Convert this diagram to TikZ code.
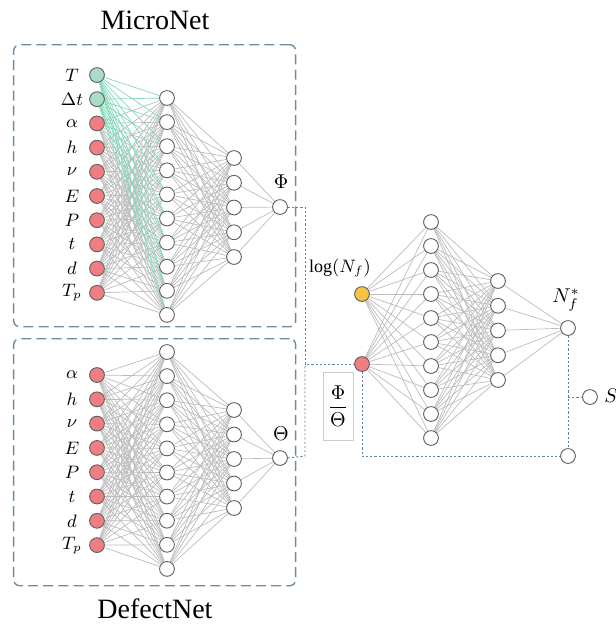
\documentclass[tikz,border=0pt]{standalone}
\usepackage{fontspec}
\setmainfont{Liberation Serif}
\usetikzlibrary{backgrounds}
\definecolor{boxcol}{RGB}{110,140,160}
\definecolor{dotcol}{RGB}{95,130,160}
\definecolor{linkcol}{RGB}{188,188,188}
\definecolor{greenlink}{RGB}{130,218,185}
\definecolor{greenfill}{RGB}{170,220,200}
\definecolor{redfill}{RGB}{240,125,130}
\definecolor{yellowfill}{RGB}{245,195,65}
\definecolor{nodeline}{RGB}{95,95,95}
\begin{document}
\begin{tikzpicture}[x=0.5pt,y=-0.5pt,
  neuron/.style={circle,draw=nodeline,line width=0.45pt,minimum size=7.4pt,inner sep=0pt,fill=white},
  inred/.style={neuron,fill=redfill},
  ingreen/.style={neuron,fill=greenfill},
  inyellow/.style={neuron,fill=yellowfill},
  link/.style={draw=linkcol,line width=0.35pt},
  glink/.style={draw=greenlink,line width=0.35pt},
  netbox/.style={draw=boxcol,line width=0.7pt,dash pattern=on 5pt off 2.6pt,rounded corners=3pt},
  dotline/.style={draw=dotcol,line width=0.45pt,dash pattern=on 1.1pt off 1pt},
  inlabel/.style={font=\fontsize{9}{10}\selectfont},
  title/.style={font=\fontsize{14}{16}\selectfont}
]
\useasboundingbox (0,0) rectangle (616,629);

% boxes
\node[netbox,minimum width=141pt,minimum height=141pt,anchor=north west] (microbox) at (13,44) {};
\node[netbox,minimum width=141pt,minimum height=123.5pt,anchor=north west] (defectbox) at (13,338) {};
\node[title] (microtitle) at (155,20) {MicroNet};
\node[title] (defecttitle) at (155,609) {DefectNet};

% ---------- MicroNet ----------
\foreach \i/\lab in {1/T,2/\Delta t} {
  \node[ingreen] (mi\i) at (97,{75+(\i-1)*24.2}) {};
  \node[inlabel] (mil\i) at (72,{75+(\i-1)*24.2}) {$\lab$};
}
\foreach \i/\lab in {3/\alpha,4/h,5/\nu,6/E,7/P,8/t,9/d,10/T_p} {
  \node[inred] (mi\i) at (97,{75+(\i-1)*24.2}) {};
  \node[inlabel] (mil\i) at (72,{75+(\i-1)*24.2}) {$\lab$};
}
\foreach \i in {1,...,10} \node[neuron] (mh\i) at (167,{98+(\i-1)*24.1}) {};
\foreach \i in {1,...,5} \node[neuron] (mm\i) at (234,{158+(\i-1)*24.75}) {};
\node[neuron] (mo) at (280,207) {};
\node[font=\fontsize{10}{11}\selectfont] (molab) at (281,182) {$\Phi$};

% ---------- DefectNet ----------
\foreach \i/\lab in {1/\alpha,2/h,3/\nu,4/E,5/P,6/t,7/d,8/T_p} {
  \node[inred] (di\i) at (97,{375+(\i-1)*24.3}) {};
  \node[inlabel] (dil\i) at (72,{375+(\i-1)*24.3}) {$\lab$};
}
\foreach \i in {1,...,10} \node[neuron] (dh\i) at (167,{352+(\i-1)*24.1}) {};
\foreach \i in {1,...,5} \node[neuron] (dm\i) at (234,{410+(\i-1)*24.5}) {};
\node[neuron] (dout) at (280,458) {};
\node[font=\fontsize{10}{11}\selectfont] (doutlab) at (281,434) {$\Theta$};

% ---------- Right net ----------
\node[inyellow] (ry) at (362,294) {};
\node[inred] (rr) at (362,364) {};
\node[font=\fontsize{9}{10}\selectfont] (rylab) at (340,268) {$\log(N_f)$};
\node[draw=black!20,line width=0.3pt,minimum width=15pt,minimum height=34pt,inner sep=0pt] (fraclab) at (338,406) {\fontsize{10}{11}\selectfont$\displaystyle\frac{\Phi}{\Theta}$};
\foreach \i in {1,...,10} \node[neuron] (rh\i) at (431,{222+(\i-1)*24}) {};
\foreach \i in {1,...,5} \node[neuron] (rm\i) at (498,{281+(\i-1)*24.75}) {};
\node[neuron] (rout) at (568,328) {};
\node[font=\fontsize{10}{11}\selectfont] (routlab) at (566,300) {$N_f^*$};
\node[neuron] (rb) at (568,456) {};
\node[neuron] (rs) at (590,397) {};
\node[font=\fontsize{10}{11}\selectfont,anchor=west,inner sep=1pt] (rslab) at (602,396) {$S$};

% connector junctions
\coordinate (j1) at (305,207);
\coordinate (j2) at (305,364);
\coordinate (j3) at (305,456);
\coordinate (j4) at (568,397);

\begin{pgfonlayer}{background}
  % MicroNet links
  \foreach \i in {3,...,10} \foreach \j in {1,...,10} \draw[link] (mi\i) -- (mh\j);
  \foreach \i in {1,...,10} \foreach \j in {1,...,5} \draw[link] (mh\i) -- (mm\j);
  \foreach \j in {1,...,5} \draw[link] (mm\j) -- (mo);
  \foreach \i in {1,2} \foreach \j in {1,...,10} \draw[glink] (mi\i) -- (mh\j);
  % DefectNet links
  \foreach \i in {1,...,8} \foreach \j in {1,...,10} \draw[link] (di\i) -- (dh\j);
  \foreach \i in {1,...,10} \foreach \j in {1,...,5} \draw[link] (dh\i) -- (dm\j);
  \foreach \j in {1,...,5} \draw[link] (dm\j) -- (dout);
  % right links
  \foreach \j in {1,...,10} {\draw[link] (ry) -- (rh\j); \draw[link] (rr) -- (rh\j);}
  \foreach \i in {1,...,10} \foreach \j in {1,...,5} \draw[link] (rh\i) -- (rm\j);
  \foreach \j in {1,...,5} \draw[link] (rm\j) -- (rout);
\end{pgfonlayer}

% dotted connectors
\draw[dotline] (mo.east) -- (j1) -- (j2) -- (rr.west);
\draw[dotline] (dout.east) -- (j3) -- (j2);
\draw[dotline] (rr.south) |- (rb.west);
\draw[dotline] (rout.south) -- (rb.north);
\draw[dotline] (j4) -- (rs.west);
\end{tikzpicture}
\end{document}
